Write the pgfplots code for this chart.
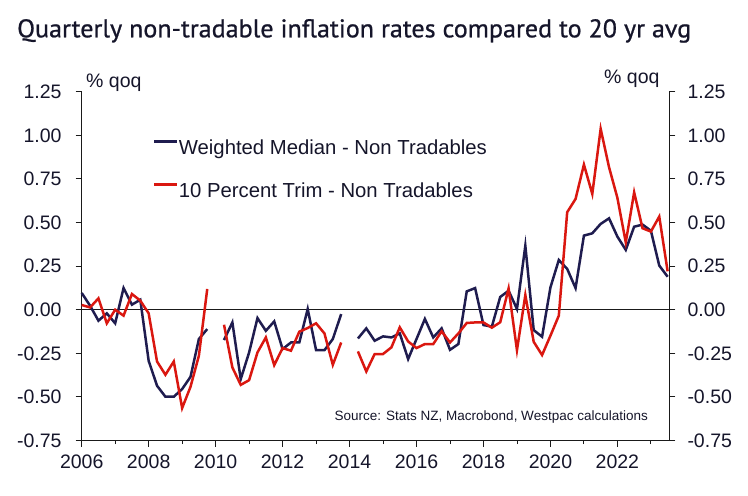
\documentclass[border=0pt]{standalone}
\usepackage{fontspec}
\setmainfont{Liberation Sans}
\newfontfamily\titlefont[FakeBold=0.8,FakeStretch=1.023]{PT Sans}
\usepackage{pgfplots}
\usepackage{pgfplotstable}
\pgfplotsset{compat=1.18}
\definecolor{navy}{HTML}{1F1C4F}
\definecolor{wred}{HTML}{DA1710}
\definecolor{axcol}{HTML}{1A1A1A}
\definecolor{txtcol}{HTML}{15152A}
\newcommand{\lblfont}{\fontsize{19.5bp}{22bp}\selectfont}
\newcommand{\legfont}{\fontsize{20.3bp}{23bp}\selectfont}

\pgfplotstableread{
x y
2006.00 0.096
2006.25 0.023
2006.50 -0.063
2006.75 -0.021
2007.00 -0.078
2007.25 0.124
2007.50 0.029
2007.75 0.057
2008.00 -0.293
2008.25 -0.436
2008.50 -0.499
2008.75 -0.499
2009.00 -0.455
2009.25 -0.385
2009.50 -0.168
2009.75 -0.111
2010.00 nan
2010.25 -0.174
2010.50 -0.073
2010.75 -0.398
2011.00 -0.245
2011.25 -0.048
2011.50 -0.121
2011.75 -0.067
2012.00 -0.226
2012.25 -0.188
2012.50 -0.188
2012.75 0.004
2013.00 -0.232
2013.25 -0.232
2013.50 -0.168
2013.75 -0.025
2014.00 nan
2014.25 -0.165
2014.50 -0.107
2014.75 -0.178
2015.00 -0.153
2015.25 -0.159
2015.50 -0.136
2015.75 -0.283
2016.00 -0.168
2016.25 -0.053
2016.50 -0.159
2016.75 -0.107
2017.00 -0.230
2017.25 -0.197
2017.50 0.105
2017.75 0.124
2018.00 -0.088
2018.25 -0.097
2018.50 0.073
2018.75 0.109
2019.00 0.004
2019.25 0.367
2019.50 -0.117
2019.75 -0.155
2020.00 0.128
2020.25 0.285
2020.50 0.234
2020.75 0.124
2021.00 0.425
2021.25 0.438
2021.50 0.492
2021.75 0.524
2022.00 0.419
2022.25 0.343
2022.50 0.476
2022.75 0.488
2023.00 0.453
2023.25 0.253
2023.50 0.189
}\wmedian

\pgfplotstableread{
x y
2006.00 0.027
2006.25 0.013
2006.50 0.065
2006.75 -0.078
2007.00 0.000
2007.25 -0.034
2007.50 0.090
2007.75 0.052
2008.00 -0.021
2008.25 -0.297
2008.50 -0.373
2008.75 -0.297
2009.00 -0.564
2009.25 -0.442
2009.50 -0.264
2009.75 0.119
2010.00 nan
2010.25 -0.086
2010.50 -0.331
2010.75 -0.431
2011.00 -0.404
2011.25 -0.245
2011.50 -0.159
2011.75 -0.318
2012.00 -0.220
2012.25 -0.235
2012.50 -0.126
2012.75 -0.105
2013.00 -0.078
2013.25 -0.136
2013.50 -0.316
2013.75 -0.188
2014.00 nan
2014.25 -0.239
2014.50 -0.354
2014.75 -0.254
2015.00 -0.254
2015.25 -0.216
2015.50 -0.101
2015.75 -0.182
2016.00 -0.220
2016.25 -0.197
2016.50 -0.197
2016.75 -0.124
2017.00 -0.188
2017.25 -0.136
2017.50 -0.076
2017.75 -0.073
2018.00 -0.073
2018.25 -0.103
2018.50 -0.072
2018.75 0.122
2019.00 -0.232
2019.25 0.084
2019.50 -0.184
2019.75 -0.260
2020.00 -0.149
2020.25 -0.034
2020.50 0.559
2020.75 0.635
2021.00 0.832
2021.25 0.664
2021.50 1.037
2021.75 0.817
2022.00 0.641
2022.25 0.386
2022.50 0.673
2022.75 0.467
2023.00 0.448
2023.25 0.534
2023.50 0.220
}\trim

\begin{document}
\begin{tikzpicture}
\path[use as bounding box] (0,0) rectangle (748bp,-496bp);
\node[anchor=base west, inner sep=0pt, text=txtcol] at (17bp,-37.3bp)
  {\titlefont\fontsize{25.5bp}{28bp}\selectfont Quarterly non-tradable inflation rates compared to 20 yr avg};
\node[anchor=base west, inner sep=0pt, text=txtcol, font=\lblfont] at (86bp,-87bp) {\% qoq};
\node[anchor=base west, inner sep=0pt, text=txtcol, font=\lblfont] at (604bp,-83bp) {\% qoq};

\begin{axis}[
  at={(81.7bp,-440.5bp)}, anchor=south west,
  scale only axis, width=587.6bp, height=348.8bp,
  xmin=2006, xmax=2023.55, ymin=-0.75, ymax=1.25,
  axis x line*=bottom, axis y line*=left,
  axis line style={draw=axcol, line width=0.9bp, -},
  xtick={2006,2008,2010,2012,2014,2016,2018,2020,2022},
  xticklabels={2006,2008,2010,2012,2014,2016,2018,2020,2022},
  minor xtick={2007,2009,2011,2013,2015,2017,2019,2021,2023},
  ytick={-0.75,-0.5,-0.25,0,0.25,0.5,0.75,1,1.25},
  yticklabels={-0.75,-0.50,-0.25,0.00,0.25,0.50,0.75,1.00,1.25},
  tick align=outside,
  major tick length=6bp, minor tick length=3.5bp,
  every tick/.style={draw=axcol, line width=0.9bp},
  every minor tick/.style={draw=axcol, line width=0.9bp},
  ticklabel style={font=\lblfont, text=txtcol, inner sep=0pt},
  yticklabel style={xshift=-14bp},
  xticklabel style={yshift=-8bp},
  unbounded coords=jump,
  clip=false,
  legend cell align=left,
  legend style={draw=none, fill=none, at={(0.1208,0.864)}, anchor=north west,
    inner sep=0pt, font=\legfont, text=txtcol, row sep=27bp,
    nodes={inner sep=0pt}},
  legend image code/.code={\draw[#1, line width=3bp] (0bp,5.7bp) -- (23bp,5.7bp);},
  /tikz/every even column/.append style={column sep=2.5bp},
]
\draw[axcol, line width=0.8bp] (axis cs:2006,0) -- (axis cs:2023.55,0);
\addplot[navy, line width=2.5bp] table[x=x,y=y] {\wmedian};
\addlegendentry{Weighted Median - Non Tradables}
\addplot[wred, line width=2.5bp] table[x=x,y=y] {\trim};
\addlegendentry{10 Percent Trim - Non Tradables}
\node[anchor=base west, inner sep=0pt, text=txtcol, font=\fontsize{13.5bp}{16bp}\selectfont]
  at (axis cs:2013.55,-0.635) {Source: Stats NZ, Macrobond, Westpac calculations};
\end{axis}

\begin{axis}[
  at={(81.7bp,-440.5bp)}, anchor=south west,
  scale only axis, width=587.6bp, height=348.8bp,
  xmin=2006, xmax=2023.55, ymin=-0.75, ymax=1.25,
  axis x line=none, axis y line*=right,
  axis line style={draw=axcol, line width=0.9bp, -},
  ytick={-0.75,-0.5,-0.25,0,0.25,0.5,0.75,1,1.25},
  yticklabels={-0.75,-0.50,-0.25,0.00,0.25,0.50,0.75,1.00,1.25},
  tick align=outside,
  major tick length=6bp,
  every tick/.style={draw=axcol, line width=0.9bp},
  ticklabel style={font=\lblfont, text=txtcol, inner sep=0pt},
  yticklabel style={anchor=west, xshift=12bp},
]
\end{axis}
\end{tikzpicture}
\end{document}
